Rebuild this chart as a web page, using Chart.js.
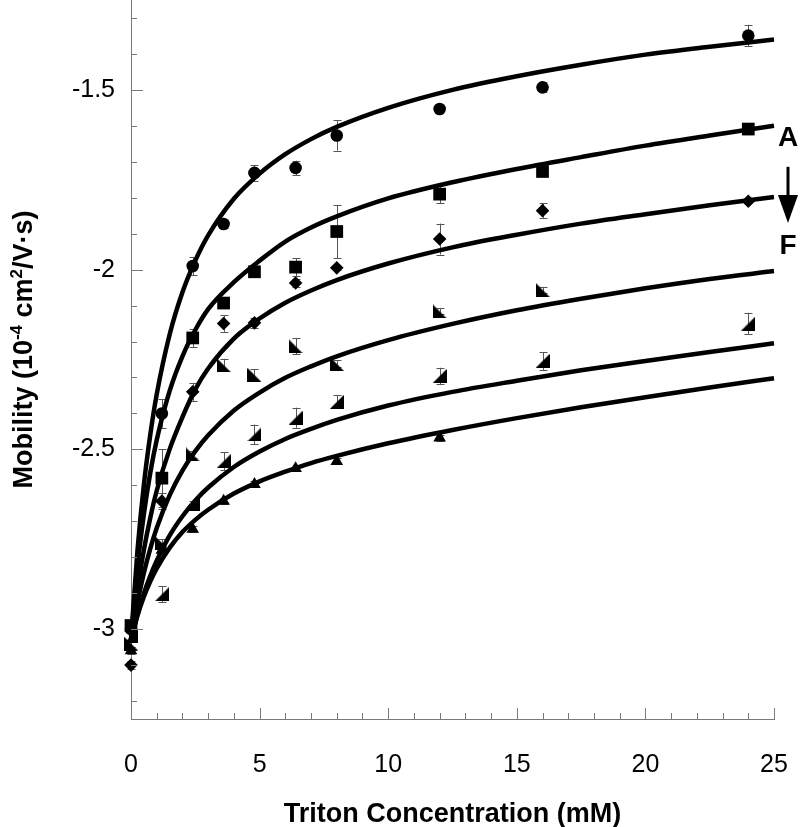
<!DOCTYPE html>
<html><head><meta charset="utf-8">
<script src="https://cdn.jsdelivr.net/npm/chart.js@4.4.1/dist/chart.umd.min.js"></script>
<style>html,body{margin:0;padding:0;background:#fff}#wrap{width:800px;height:827px;position:relative}</style>
</head><body><div id="wrap"><canvas id="c"></canvas></div>
<script>
// ---- data ----
const xTickValues = [0, 5, 10, 15, 20, 25];
const yTickValues = [-3, -2.5, -2, -1.5];
const yTickLabels = ['-3', '-2.5', '-2', '-1.5'];
const xTitle = 'Triton Concentration (mM)';
const seriesNames = ['A', 'B', 'C', 'D', 'E', 'F'];

// fitted curves
const curveX = [0, 0.25, 0.5, 0.75, 1, 1.5, 2, 2.5, 3, 4, 5, 6, 7, 8, 10, 12.5, 15, 17.5, 20, 22.5, 25];
const curveA = [-3.03, -2.783, -2.599, -2.459, -2.347, -2.181, -2.063, -1.975, -1.905, -1.803, -1.733, -1.679, -1.637, -1.603, -1.550, -1.500, -1.462, -1.430, -1.402, -1.380, -1.360];
const curveB = [-3.03, -2.828, -2.680, -2.565, -2.474, -2.338, -2.241, -2.168, -2.110, -2.035, -1.975, -1.922, -1.883, -1.852, -1.802, -1.757, -1.720, -1.687, -1.655, -1.627, -1.600];
const curveC = [-3.03, -2.890, -2.780, -2.690, -2.615, -2.500, -2.410, -2.333, -2.275, -2.192, -2.136, -2.092, -2.058, -2.029, -1.983, -1.938, -1.903, -1.872, -1.846, -1.821, -1.798];
const curveD = [-3.03, -2.927, -2.844, -2.776, -2.719, -2.628, -2.559, -2.505, -2.461, -2.392, -2.342, -2.301, -2.269, -2.241, -2.196, -2.151, -2.113, -2.081, -2.052, -2.026, -2.004];
const curveE = [-3.03, -2.960, -2.901, -2.852, -2.810, -2.740, -2.686, -2.642, -2.606, -2.549, -2.506, -2.471, -2.443, -2.418, -2.378, -2.340, -2.309, -2.280, -2.254, -2.229, -2.205];
const curveF = [-3.03, -2.963, -2.910, -2.867, -2.831, -2.774, -2.730, -2.696, -2.668, -2.623, -2.589, -2.562, -2.538, -2.518, -2.483, -2.446, -2.413, -2.383, -2.355, -2.328, -2.302];

// measured points
const pointX = [0, 1.2, 2.4, 3.6, 4.8, 6.4, 8, 12, 16, 24];
const ptA = [-3.00, -2.40, -1.99, -1.873, -1.731, -1.717, -1.627, -1.553, -1.493, -1.349];
const ptB = [-2.99, -2.58, -2.19, -2.093, -2.006, -1.993, -1.894, -1.790, -1.727, -1.609];
const ptC = [-3.10, -2.644, -2.34, -2.15, -2.148, -2.037, -1.995, -1.915, -1.836, -1.810];
const ptD = [-3.04, -2.76, -2.514, -2.265, -2.293, -2.213, -2.262, -2.116, -2.056];
const ptE = [-3.02, -2.903, -2.653, -2.533, -2.458, -2.412, -2.368, -2.296, -2.254, -2.150];
const ptF = [-3.06, -2.78, -2.722, -2.644, -2.597, -2.553, -2.533, -2.468];
const errA = [0.01, 0.04, 0.025, 0.01, 0.022, 0.02, 0.042, 0.005, 0.014, 0.03];
const errB = [0.01, 0.08, 0.025, 0.008, 0.01, 0.025, 0.074, 0.025, 0.01, 0.01];
const errC = [0.01, 0.022, 0.025, 0.023, 0.014, 0.01, 0.005, 0.043, 0.02, 0.005];
const errD = [0.01, 0.01, 0.01, 0.017, 0.016, 0.022, 0.01, 0.008, 0.008];
const errE = [0.01, 0.022, 0.01, 0.025, 0.027, 0.028, 0.018, 0.023, 0.025, 0.03];
const errF = [0.01, 0.01, 0.008, 0.008, 0.008, 0.008, 0.008, 0.008];

// annotation (A -> F arrow) positions in data units
const labelA_Y = -1.634, arrowTopY = -1.714, arrowTipY = -1.870, labelF_Y = -1.934;

// ---- rendering ----
const FONT = "'Liberation Sans', Arial, Helvetica, sans-serif";
const AXIS_COLOR = '#7a7a7a';

function triCanvas(kind) {
  const s = 14, c = document.createElement('canvas');
  c.width = s; c.height = s;
  const g = c.getContext('2d');
  g.fillStyle = '#000';
  g.beginPath();
  if (kind === 'left') { g.moveTo(0, 0); g.lineTo(0, s); g.lineTo(s, s); }
  else { g.moveTo(s, 0); g.lineTo(s, s); g.lineTo(0, s); }
  g.closePath(); g.fill();
  return c;
}

const curveSets = [curveA, curveB, curveC, curveD, curveE, curveF];
const ptSets = [ptA, ptB, ptC, ptD, ptE, ptF];
const errSets = [errA, errB, errC, errD, errE, errF];
const styles = ['circle', 'rect', 'rectRot', triCanvas('left'), triCanvas('right'), 'triangle'];
const radii = [6.3, 9, 6.8, 7, 7, 7.3];

const datasets = [];
curveSets.forEach((ys, k) => {
  datasets.push({
    type: 'line', label: 'fit ' + seriesNames[k],
    data: curveX.map((x, i) => ({ x, y: ys[i] })),
    borderColor: '#000', borderWidth: 4.5, pointRadius: 0, fill: false,
    cubicInterpolationMode: 'monotone', clip: 8, order: 2
  });
});
ptSets.forEach((ys, k) => {
  datasets.push({
    type: 'scatter', label: seriesNames[k],
    data: ys.map((y, i) => ({ x: pointX[i], y, e: errSets[k][i] })),
    pointStyle: styles[k], pointRadius: radii[k], pointHoverRadius: radii[k],
    backgroundColor: '#000', borderColor: '#000', borderWidth: 0,
    showLine: false, clip: false, order: 1, errorBars: true
  });
});

const errorBarPlugin = {
  id: 'errorBars',
  beforeDatasetsDraw(chart) {
    const { ctx, scales: { x, y } } = chart;
    ctx.save();
    ctx.strokeStyle = '#555'; ctx.lineWidth = 1;
    chart.data.datasets.forEach(ds => {
      if (!ds.errorBars) return;
      ds.data.forEach(p => {
        const px = Math.round(x.getPixelForValue(p.x)) + 0.5;
        const yt = y.getPixelForValue(p.y + p.e), yb = y.getPixelForValue(p.y - p.e);
        ctx.beginPath();
        ctx.moveTo(px, yt); ctx.lineTo(px, yb);
        ctx.moveTo(px - 4, Math.round(yt) + 0.5); ctx.lineTo(px + 4, Math.round(yt) + 0.5);
        ctx.moveTo(px - 4, Math.round(yb) + 0.5); ctx.lineTo(px + 4, Math.round(yb) + 0.5);
        ctx.stroke();
      });
    });
    ctx.restore();
  }
};

const decorPlugin = {
  id: 'decor',
  afterDraw(chart) {
    const { ctx, chartArea: ca, scales: { x, y } } = chart;
    ctx.save();
    // inward ticks
    ctx.strokeStyle = AXIS_COLOR; ctx.lineWidth = 1;
    ctx.beginPath();
    for (let v = 0; v <= 25.001; v += 1) {
      const px = Math.round(x.getPixelForValue(v)) + 0.5;
      const len = (Math.abs(v % 5) < 1e-6) ? 11 : 6;
      ctx.moveTo(px, ca.bottom); ctx.lineTo(px, ca.bottom - len);
    }
    for (let i = -32; i <= -13; i++) {
      const v = i / 10;
      const py = Math.round(y.getPixelForValue(v)) + 0.5;
      const len = (i % 5 === 0) ? 12 : 6;
      ctx.moveTo(ca.left, py); ctx.lineTo(ca.left + len, py);
    }
    ctx.stroke();

    ctx.fillStyle = '#000';
    // x title
    ctx.font = 'bold 27px ' + FONT;
    ctx.textAlign = 'center'; ctx.textBaseline = 'alphabetic';
    ctx.fillText(xTitle, (ca.left + ca.right) / 2, 822);

    // y title with superscripts
    const parts = [
      { t: 'Mobility (10', sup: false }, { t: '-4', sup: true }, { t: ' cm', sup: false },
      { t: '2', sup: true }, { t: '/V\u00B7s)', sup: false }
    ];
    const mainF = 'bold 27px ' + FONT, supF = 'bold 17px ' + FONT;
    let total = 0;
    parts.forEach(p => { ctx.font = p.sup ? supF : mainF; p.w = ctx.measureText(p.t).width; total += p.w; });
    ctx.translate(32, (ca.top + ca.bottom) / 2 - 10);
    ctx.rotate(-Math.PI / 2);
    ctx.textAlign = 'left';
    let cx = -total / 2;
    parts.forEach(p => {
      ctx.font = p.sup ? supF : mainF;
      ctx.fillText(p.t, cx, p.sup ? -10 : 0);
      cx += p.w;
    });
    ctx.setTransform(1, 0, 0, 1, 0, 0);

    // A -> F annotation
    const ax = ca.right + 14;
    ctx.font = 'bold 28px ' + FONT;
    ctx.textAlign = 'center'; ctx.textBaseline = 'middle';
    ctx.fillText('A', ax, y.getPixelForValue(labelA_Y));
    ctx.fillText('F', ax, y.getPixelForValue(labelF_Y));
    const yTop = y.getPixelForValue(arrowTopY), yTip = y.getPixelForValue(arrowTipY);
    ctx.strokeStyle = '#000'; ctx.lineWidth = 3;
    ctx.beginPath(); ctx.moveTo(ax, yTop); ctx.lineTo(ax, yTip - 20); ctx.stroke();
    ctx.beginPath(); ctx.moveTo(ax - 10, yTip - 28); ctx.lineTo(ax + 10, yTip - 28); ctx.lineTo(ax, yTip); ctx.closePath(); ctx.fill();
    ctx.restore();
  }
};

function zeroPad(s) { s.paddingLeft = 0; s.paddingRight = 0; s.paddingTop = 0; s.paddingBottom = 0; }

new Chart(document.getElementById('c'), {
  type: 'scatter',
  data: { datasets },
  options: {
    responsive: true, maintainAspectRatio: false, animation: false,
    devicePixelRatio: 1,
    layout: { autoPadding: false, padding: { left: 0, right: 26, top: 0, bottom: 0 } },
    plugins: { legend: { display: false }, tooltip: { enabled: false } },
    elements: { line: { tension: 0 } },
    scales: {
      x: {
        type: 'linear', min: 0, max: 25,
        afterFit: s => { s.height = 108; zeroPad(s); },
        afterBuildTicks: s => { s.ticks = xTickValues.map(v => ({ value: v })); },
        grid: { display: false, drawTicks: false },
        border: { display: true, color: AXIS_COLOR, width: 1 },
        ticks: { color: '#000', font: { size: 25, family: FONT }, padding: 31, maxRotation: 0,
                 callback: v => String(v) }
      },
      y: {
        type: 'linear', min: -3.25, max: -1.25,
        afterFit: s => { s.width = 131; zeroPad(s); },
        afterBuildTicks: s => { s.ticks = yTickValues.map(v => ({ value: v })); },
        grid: { display: false, drawTicks: false },
        border: { display: true, color: AXIS_COLOR, width: 1 },
        ticks: { color: '#000', font: { size: 25, family: FONT }, padding: 16,
                 callback: v => { const i = yTickValues.indexOf(v); return i >= 0 ? yTickLabels[i] : ''; } }
      }
    }
  },
  plugins: [errorBarPlugin, decorPlugin]
});
</script></body></html>
